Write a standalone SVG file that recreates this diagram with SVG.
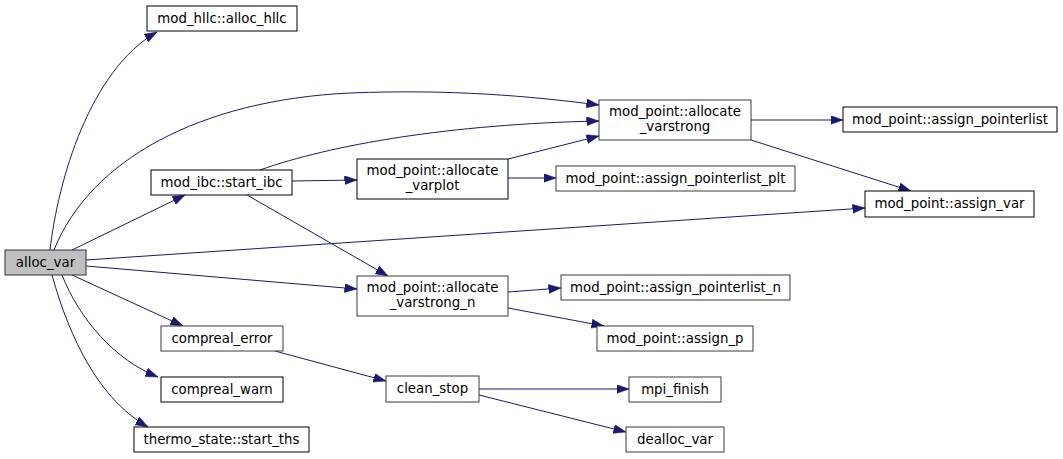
<svg xmlns="http://www.w3.org/2000/svg" width="1063" height="459" viewBox="0 0 1063 459">
<style>
.n rect{fill:#ffffff;stroke:#000000;stroke-width:1}
.n.g rect{stroke:#3a3a3a}
.n.root rect{fill:#bfbfbf;stroke:#303030}
.n text{font-family:"DejaVu Sans",sans-serif;font-size:13.33px;fill:#000000;text-anchor:middle}
.e path{fill:none;stroke:#191970;stroke-width:1;marker-end:url(#ah)}
</style>
<defs>
<marker id="ah" markerUnits="userSpaceOnUse" markerWidth="14" markerHeight="10" refX="12.5" refY="4.5" orient="auto">
<path d="M0,0 L12.5,4.5 L0,9 z" fill="#191970" stroke="#191970" stroke-width="0.5"/>
</marker>
</defs>
<rect width="1063" height="459" fill="#ffffff"/>
<g id="connectors" class="e">
<path d="M50,250 C58,180 90,70 157,32"/>
<path d="M54,250 C90,160 200,100 350,93 C450,89 530,96 599,105"/>
<path d="M260,170 C330,145 450,124 599,121"/>
<path d="M292,181 L357,180"/>
<path d="M508,159 L599,136"/>
<path d="M508,178 L556,178"/>
<path d="M247,195 L388,276"/>
<path d="M86,266 L357,289"/>
<path d="M86,260 L865,208"/>
<path d="M72,250 L185,195"/>
<path d="M72,275 L183,326"/>
<path d="M62,275 C80,320 115,360 158,377"/>
<path d="M52,275 C70,340 100,400 148,427"/>
<path d="M275,351 L386,381"/>
<path d="M479,389 L629,389"/>
<path d="M479,395 L626,432"/>
<path d="M508,292 L561,288"/>
<path d="M508,308 L604,326"/>
<path d="M751,120 L843,120"/>
<path d="M751,140 L911,191"/>
</g>
<g id="alloc_var" class="n root"><rect x="5" y="250" width="81" height="25"/><text x="45.5" y="266.5">alloc_var</text></g>
<g id="alloc_hllc" class="n"><rect x="147" y="6" width="150" height="25"/><text x="222" y="22.5">mod_hllc::alloc_hllc</text></g>
<g id="start_ibc" class="n"><rect x="151" y="170" width="141" height="25"/><text x="221.5" y="186.5">mod_ibc::start_ibc</text></g>
<g id="compreal_error" class="n g"><rect x="161" y="326" width="122" height="25"/><text x="222" y="342.5">compreal_error</text></g>
<g id="compreal_warn" class="n"><rect x="161" y="377" width="122" height="25"/><text x="222" y="393.5">compreal_warn</text></g>
<g id="start_ths" class="n"><rect x="134" y="427" width="175" height="25"/><text x="221.5" y="443.5">thermo_state::start_ths</text></g>
<g id="allocate_varplot" class="n"><rect x="357" y="159" width="151" height="40"/><text x="432.5" y="175">mod_point::allocate</text><text x="432.5" y="189.5">_varplot</text></g>
<g id="allocate_varstrong_n" class="n g"><rect x="357" y="276" width="151" height="40"/><text x="432.5" y="292">mod_point::allocate</text><text x="432.5" y="306.5">_varstrong_n</text></g>
<g id="clean_stop" class="n g"><rect x="386" y="376" width="93" height="26"/><text x="432.5" y="393">clean_stop</text></g>
<g id="allocate_varstrong" class="n g"><rect x="599" y="100" width="152" height="40"/><text x="675" y="116">mod_point::allocate</text><text x="675" y="130.5">_varstrong</text></g>
<g id="assign_pointerlist_plt" class="n g"><rect x="556" y="166" width="239" height="25"/><text x="675.5" y="182.5">mod_point::assign_pointerlist_plt</text></g>
<g id="assign_pointerlist_n" class="n g"><rect x="561" y="275" width="229" height="25"/><text x="675.5" y="291.5">mod_point::assign_pointerlist_n</text></g>
<g id="assign_p" class="n g"><rect x="597" y="326" width="156" height="25"/><text x="675" y="342.5">mod_point::assign_p</text></g>
<g id="mpi_finish" class="n g"><rect x="629" y="377" width="92" height="25"/><text x="675" y="393.5">mpi_finish</text></g>
<g id="dealloc_var" class="n g"><rect x="626" y="427" width="98" height="25"/><text x="675" y="443.5">dealloc_var</text></g>
<g id="assign_pointerlist" class="n"><rect x="843" y="107" width="214" height="25"/><text x="950" y="123.5">mod_point::assign_pointerlist</text></g>
<g id="assign_var" class="n"><rect x="865" y="191" width="169" height="26"/><text x="949.5" y="208">mod_point::assign_var</text></g>
</svg>
